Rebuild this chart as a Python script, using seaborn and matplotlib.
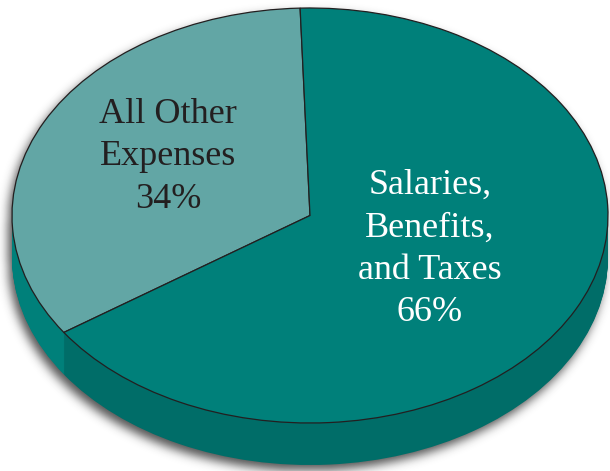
import numpy as np
import matplotlib
matplotlib.use("Agg")
import matplotlib.pyplot as plt
import seaborn as sns

# ---- data ----
categories = ["All Other\nExpenses", "Salaries,\nBenefits,\nand Taxes"]
shares = [34, 66]
pct_labels = ["34%", "66%"]
top_colors = ["#62A6A5", "#00807A"]
side_colors = ["#00807A", "#006D68"]
text_colors = ["#231F20", "#FFFFFF"]

sns.set_theme(style="white")
plt.rcParams['font.family'] = ['Liberation Serif', 'DejaVu Serif']

W, H = 610, 471
fig = plt.figure(figsize=(W / 100, H / 100), dpi=100)
ax = fig.add_axes([0, 0, 1, 1])

cx, cy, rx, ry, depth = 310, 215.5, 298, 207.5, 42
s = ry / rx


def Y(py):
    return (H - py) / s


# ---- soft shadow (decoration) ----
yy, xx = np.mgrid[0:H, 0:W].astype(float)
ox, oy = -4.0, 5.0
xs, ys = xx - ox, yy - oy
in_top = ((xs - cx) / rx) ** 2 + ((ys - cy) / ry) ** 2 <= 1
in_bot = ((xs - cx) / rx) ** 2 + ((ys - cy - depth) / ry) ** 2 <= 1
in_mid = (np.abs(xs - cx) <= rx) & (ys >= cy) & (ys <= cy + depth)
mask = (in_top | in_bot | in_mid).astype(float)
sig = 5.0
kx = np.arange(-18, 19)
kern = np.exp(-kx ** 2 / (2 * sig ** 2))
kern /= kern.sum()
pad = 20
m = np.pad(mask, pad)
m = np.apply_along_axis(lambda r: np.convolve(r, kern, mode="same"), 1, m)
m = np.apply_along_axis(lambda c: np.convolve(c, kern, mode="same"), 0, m)
m = m[pad:-pad, pad:-pad]
rgba = np.zeros((H, W, 4))
rgba[..., :3] = 0.15
rgba[..., 3] = 0.8 * m
ax.imshow(rgba, extent=(0, W, 0, H / s), origin="upper", zorder=0, aspect="auto")

# ---- side of the 3D pie ----
start = 91.9
for k in range(depth, 0, -1):
    wedges, _ = ax.pie(shares, colors=side_colors, startangle=start, counterclock=True,
                       radius=rx, center=(cx, Y(cy + k)),
                       wedgeprops=dict(linewidth=0))
    for w in wedges:
        w.set_zorder(1)

# ---- top face ----
wedges, _ = ax.pie(shares, colors=top_colors, startangle=start, counterclock=True,
                   radius=rx, center=(cx, Y(cy)),
                   wedgeprops=dict(edgecolor="#231F20", linewidth=0.9))
for w in wedges:
    w.set_zorder(2)

# ---- labels ----
label_pos = [(168, 157), (430, 249)]
for cat, pct, (px, py), tc in zip(categories, pct_labels, label_pos, text_colors):
    ax.text(px, Y(py), f"{cat}\n{pct}", ha="center", va="center", color=tc,
            fontsize=26, linespacing=1.38, zorder=3)

ax.set_aspect("auto")
ax.set_xlim(0, W)
ax.set_ylim(0, H / s)
ax.axis("off")
fig.savefig("out.png", dpi=100, facecolor="white")
